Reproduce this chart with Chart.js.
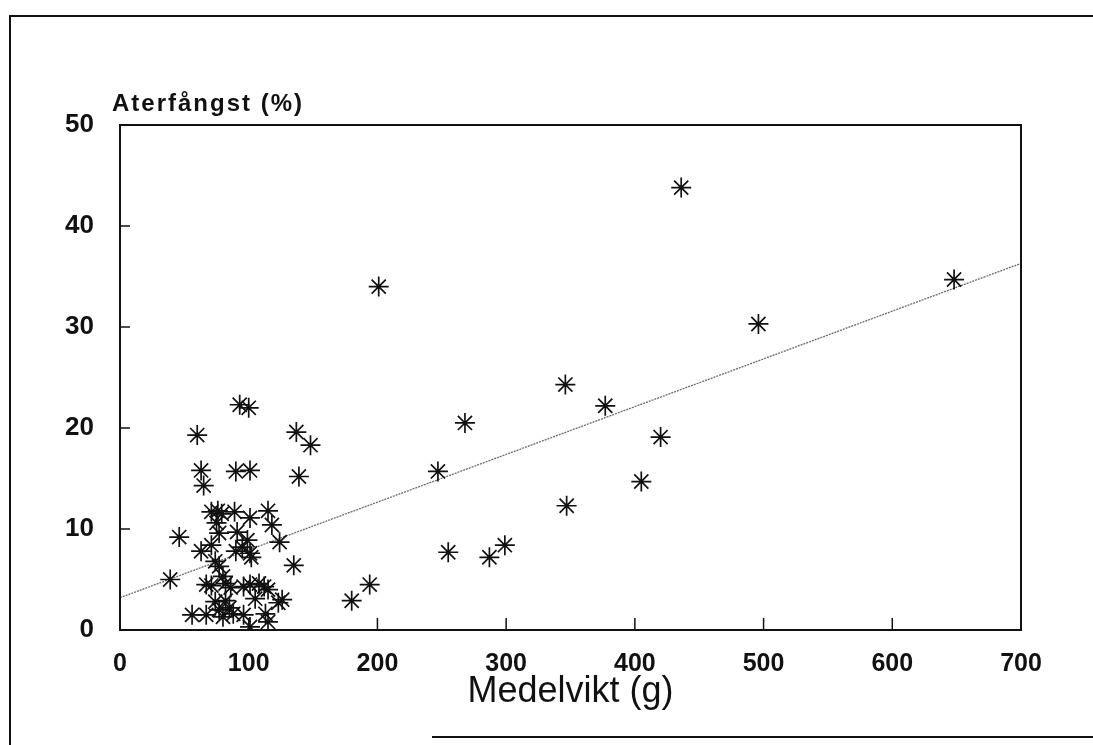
<!DOCTYPE html>
<html>
<head>
<meta charset="utf-8">
<script src="https://cdn.jsdelivr.net/npm/chart.js@4/dist/chart.umd.min.js"></script>
<style>
  html, body { margin: 0; padding: 0; background: #fff; }
  #wrap { position: relative; width: 1093px; height: 745px; overflow: hidden; }
  #chart { position: absolute; left: 0; top: 0; }
  .edge { position: absolute; background: #111; }
</style>
</head>
<body>
<div id="wrap">
  <canvas id="chart" width="1093" height="745"></canvas>
  <!-- page frame from the scan -->
  <div class="edge" style="left:9px; top:16px; width:2px; height:729px;"></div>
  <div class="edge" style="left:9px; top:15px; width:1084px; height:2px;"></div>
  <div class="edge" style="left:432px; top:736px; width:661px; height:2px;"></div>
</div>
<script>
// Medelvikt (g) vs återfångst (%)
const weightX = [
    436, 201, 648, 496, 346, 377, 268, 420, 247, 405, 347, 299, 287, 255, 194, 180,
    93, 100, 60, 137, 148, 63, 65, 90, 101, 139, 46, 39, 135, 115, 118, 124, 101,
    71, 79, 76, 89, 75, 77, 91, 95, 99, 63, 71, 90, 101, 102, 74, 77,
    80, 67, 71, 86, 82, 96, 101, 108, 112, 115, 105, 82, 74, 85, 77, 123, 126,
    56, 67, 80, 88, 96, 113, 115, 101
];
const recaptureY = [
    43.8, 34.0, 34.7, 30.3, 24.3, 22.2, 20.5, 19.1, 15.7, 14.7, 12.3, 8.4, 7.2, 7.7, 4.5, 2.9,
    22.3, 22.0, 19.3, 19.6, 18.3, 15.8, 14.3, 15.7, 15.8, 15.2, 9.2, 5.0, 6.4, 11.8, 10.4, 8.7, 11.1,
    11.7, 11.5, 11.8, 11.7, 10.6, 9.6, 9.7, 8.2, 8.9, 7.8, 8.4, 7.8, 7.6, 7.2, 6.8, 6.3,
    5.3, 4.5, 4.4, 4.2, 4.6, 4.3, 4.5, 4.6, 4.3, 4.0, 3.1, 2.9, 2.8, 2.2, 2.0, 2.7, 3.0,
    1.5, 1.5, 1.3, 1.6, 1.5, 1.6, 0.8, 0.3
];

// fitted regression line
const fitX = [0, 700];
const fitY = [3.2, 36.3];

const xTicks = [0, 100, 200, 300, 400, 500, 600, 700];
const yTicks = [0, 10, 20, 30, 40, 50];

const points = weightX.map((x, i) => ({ x: x, y: recaptureY[i] }));
const fitLine = fitX.map((x, i) => ({ x: x, y: fitY[i] }));

// frame, inward tick marks and the y-axis caption
const framePlugin = {
    id: 'frame',
    afterDraw(chart) {
        const ctx = chart.ctx;
        const a = chart.chartArea;
        const sx = chart.scales.x;
        const sy = chart.scales.y;
        ctx.save();
        ctx.strokeStyle = '#111';
        ctx.lineWidth = 2;
        ctx.strokeRect(a.left, a.top, a.right - a.left, a.bottom - a.top);

        ctx.lineWidth = 1.5;
        ctx.beginPath();
        xTicks.slice(1, -1).forEach(v => {
            const px = sx.getPixelForValue(v);
            ctx.moveTo(px, a.bottom);
            ctx.lineTo(px, a.bottom - 12);
        });
        yTicks.slice(1, -1).forEach(v => {
            const py = sy.getPixelForValue(v);
            ctx.moveTo(a.left, py);
            ctx.lineTo(a.left + 10, py);
        });
        ctx.stroke();

        ctx.fillStyle = '#111';
        ctx.font = 'bold 24px "Liberation Sans", Arial, sans-serif';
        ctx.letterSpacing = '2px';
        ctx.textAlign = 'left';
        ctx.textBaseline = 'alphabetic';
        ctx.fillText('Aterfångst (%)', a.left - 8, a.top - 14);
        ctx.restore();
    }
};

new Chart(document.getElementById('chart'), {
    type: 'scatter',
    data: {
        datasets: [
            {
                type: 'line',
                data: fitLine,
                borderColor: '#6a6a6a',
                borderWidth: 1.3,
                borderDash: [2, 1],
                pointRadius: 0,
                fill: false,
                order: 2
            },
            {
                data: points,
                pointStyle: 'star',
                pointRadius: 10,
                pointBorderWidth: 1.7,
                borderColor: '#111',
                backgroundColor: '#111',
                order: 1
            }
        ]
    },
    options: {
        responsive: false,
        animation: false,
        events: [],
        layout: { padding: { left: 0, top: 125, right: 72, bottom: 5 } },
        plugins: {
            legend: { display: false },
            tooltip: { enabled: false }
        },
        scales: {
            x: {
                type: 'linear',
                min: 0,
                max: 700,
                afterFit: s => { s.height = 110; },
                afterBuildTicks: s => { s.ticks = xTicks.map(v => ({ value: v })); },
                grid: { display: false },
                border: { display: false },
                ticks: {
                    color: '#111',
                    padding: 11,
                    maxRotation: 0,
                    font: { family: '"Liberation Sans", Arial, sans-serif', size: 25, weight: 'bold' }
                },
                title: {
                    display: true,
                    text: 'Medelvikt (g)',
                    color: '#111',
                    padding: { top: 0, bottom: 26 },
                    font: { family: '"Liberation Sans", Arial, sans-serif', size: 36 }
                }
            },
            y: {
                type: 'linear',
                min: 0,
                max: 50,
                afterFit: s => { s.width = 120; },
                afterBuildTicks: s => { s.ticks = yTicks.map(v => ({ value: v })); },
                grid: { display: false },
                border: { display: false },
                ticks: {
                    color: '#111',
                    padding: 18,
                    font: { family: '"Liberation Sans", Arial, sans-serif', size: 26, weight: 'bold' }
                }
            }
        }
    },
    plugins: [framePlugin]
});
</script>
</body>
</html>
